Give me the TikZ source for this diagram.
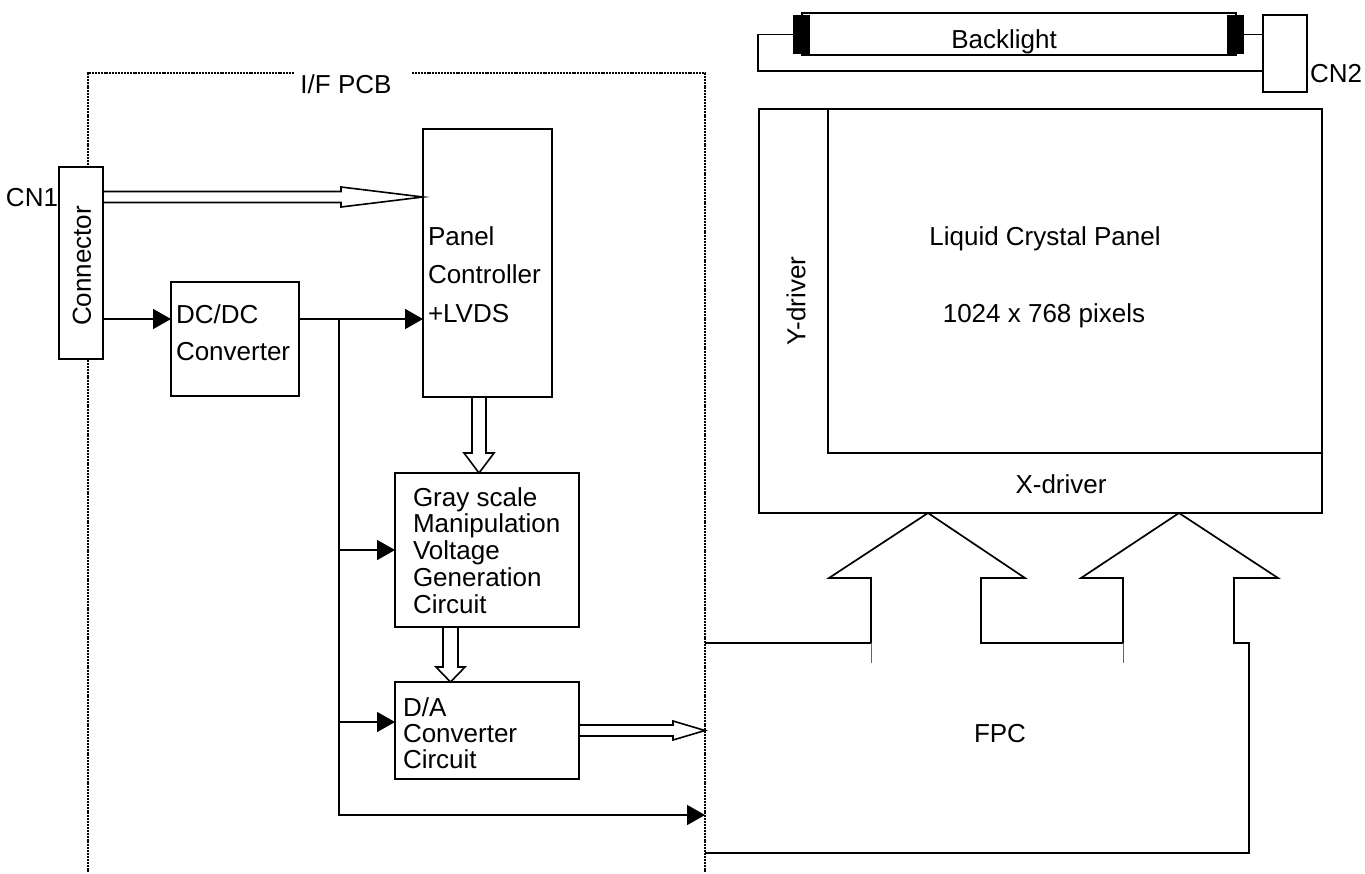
\documentclass[tikz,border=0pt]{standalone}
\usepackage{fontspec}
\setmainfont{Liberation Sans}
\usetikzlibrary{arrows.meta,calc}
\newcommand{\fs}{\fontsize{26}{31}\selectfont}
\newcommand{\blk}[2]{{\fontsize{26}{#1}\selectfont\begin{tabular}[t]{@{}l@{}}#2\end{tabular}}}
% hollow arrow pointing down: #1 start, #2 tip, #3 shaft half width, #4 head half width, #5 head length
\newcommand{\HollowDown}[5]{\draw[harrow] let \p1=#1, \p2=#2 in
  (\x2-#3,\y1) -- (\x2+#3,\y1) -- (\x2+#3,\y2+#5) -- (\x2+#4,\y2+#5) -- (\x2,\y2)
  -- (\x2-#4,\y2+#5) -- (\x2-#3,\y2+#5) -- cycle;}
% hollow arrow pointing right
\newcommand{\HollowRight}[5]{\draw[harrow] let \p1=#1, \p2=#2 in
  (\x1,\y2+#3) -- (\x2-#5,\y2+#3) -- (\x2-#5,\y2+#4) -- (\x2,\y2) -- (\x2-#5,\y2-#4)
  -- (\x2-#5,\y2-#3) -- (\x1,\y2-#3) -- cycle;}
\begin{document}
\begin{tikzpicture}[x=1pt,y=-1pt,
  box/.style={draw, line width=1.7pt, fill=white, inner sep=0pt, outer sep=0pt},
  ln/.style={line width=1.7pt},
  pcb/.style={line width=2.7pt, dash pattern=on 2pt off 0.9pt, line join=miter},
  harrow/.style={draw, line width=1.6pt, fill=white, line join=miter},
  tri/.style={-{Triangle[length=18pt,width=20pt]}},
  lbl/.style={inner sep=0pt, outer sep=0pt, font=\fs},
  thin/.style={line width=0.5pt, black!60}]
\useasboundingbox (0,0) rectangle (1365,873);

% I/F PCB dotted border
\draw[pcb] (294,73) -- (88,73) -- (88,873);
\draw[pcb] (412,73) -- (705,73) -- (705,873);
\node[lbl, anchor=base] (pcbT) at (346,93) {I/F PCB};

% coordinates
\coordinate (dataY) at (0,197);
\coordinate (pwrY) at (0,319);
\coordinate (busTop) at (339,319);
\coordinate (grayY) at (0,550);
\coordinate (daInY) at (0,722);
\coordinate (busY) at (0,815);
\coordinate (ctlX) at (479,0);
\coordinate (grX) at (450.5,0);
\coordinate (fpcL) at (705,643);

% boxes
\node[box, minimum width=44pt, minimum height=192pt] (conn) at (81,263) {};
\node[lbl, rotate=90] (connT) at (82,266) {Connector};
\node[lbl, anchor=base east] (cn1) at (58,206) {CN1};

\node[box, minimum width=128pt, minimum height=114pt] (dcdc) at (235,339) {};
\node[lbl, anchor=base west] (dcdcT) at (176,323) {\blk{37}{DC/DC\\Converter}};

\node[box, minimum width=129pt, minimum height=268pt] (panel) at (487.5,263) {};
\node[lbl, anchor=base west] (panelT) at (428,245) {\blk{38.5}{Panel\\Controller\\+LVDS}};

\node[box, minimum width=184pt, minimum height=154pt] (gray) at (487,550) {};
\node[lbl, anchor=base west] (grayT) at (413,506) {\blk{26.5}{Gray scale\\Manipulation\\Voltage\\Generation\\Circuit}};

\node[box, minimum width=184pt, minimum height=97pt] (da) at (487,730.5) {};
\node[lbl, anchor=base west] (daT) at (403,716) {\blk{26}{D/A\\Converter\\Circuit}};

% power connections
\draw[ln, tri] (conn.east |- pwrY) -- (dcdc.west |- pwrY);
\draw[ln, tri] (dcdc.east |- pwrY) -- (panel.west |- pwrY);
\draw[ln, tri] (busTop) -- (busTop |- busY) -- (fpcL |- busY);
\draw[ln, tri] (busTop |- grayY) -- (gray.west |- grayY);
\draw[ln, tri] (busTop |- daInY) -- (da.west |- daInY);

% data (hollow) arrows
\HollowRight{(conn.east |- dataY)}{(panel.west |- dataY)}{5.5pt}{10pt}{82pt}
\HollowDown{(ctlX |- panel.south)}{(ctlX |- gray.north)}{7pt}{15pt}{20pt}
\HollowDown{(grX |- gray.south)}{(grX |- da.north)}{7.5pt}{14.5pt}{15pt}
\HollowRight{(da.east)}{(fpcL |- da.east)}{5.5pt}{9.5pt}{32pt}

% Backlight
\node[box, minimum width=434pt, minimum height=42pt] (tube) at (1019,34) {};
\node[fill=black, inner sep=0pt, outer sep=0pt, minimum width=17pt, minimum height=39pt] (capL) at (801.5,34.5) {};
\node[fill=black, inner sep=0pt, outer sep=0pt, minimum width=17pt, minimum height=39pt] (capR) at (1235,34.5) {};
\node[lbl, anchor=base] (blT) at (1004,48) {Backlight};
\node[box, minimum width=44pt, minimum height=77pt] (cn2) at (1285,53.5) {};
\node[lbl, anchor=base west] (cn2T) at (1310,82) {CN2};
\coordinate (loopL) at (758,71);
\draw[ln] (capL.west) -- (loopL |- capL.west) -- (loopL) -- (cn2.west |- loopL);
\draw[ln] (capR.east) -- (cn2.west |- capR.east);

% Liquid crystal panel
\node[box, minimum width=563pt, minimum height=404pt] (lcd) at (1040.5,311) {};
\coordinate (inner) at (828,453);
\draw[ln] (inner |- lcd.north) -- (inner) -- (lcd.east |- inner);
\node[lbl, rotate=90] (ydrv) at (796,301) {Y-driver};
\node[lbl, anchor=base] (lcdT) at (1045,245) {Liquid Crystal Panel};
\node[lbl, anchor=base] (pixT) at (1044,322) {1024 x 768 pixels};
\node[lbl, anchor=base] (xdrv) at (1061,493) {X-driver};

% FPC
\draw[ln, line join=miter] (fpcL) -- (871,643) -- (871,578) -- (829,578) -- (928,513)
  -- (1025,578) -- (981,578) -- (981,643) -- (1123,643) -- (1123,578) -- (1081,578)
  -- (1179,513) -- (1278,578) -- (1234,578) -- (1234,643) -- (1249,643) -- (1249,853)
  -- (fpcL |- 0,853);
\draw[thin] (871,643) -- (871,663);
\draw[thin] (1123,643) -- (1123,663);
\node[lbl, anchor=base] (fpcT) at (1000,742) {FPC};
\end{tikzpicture}
\end{document}
